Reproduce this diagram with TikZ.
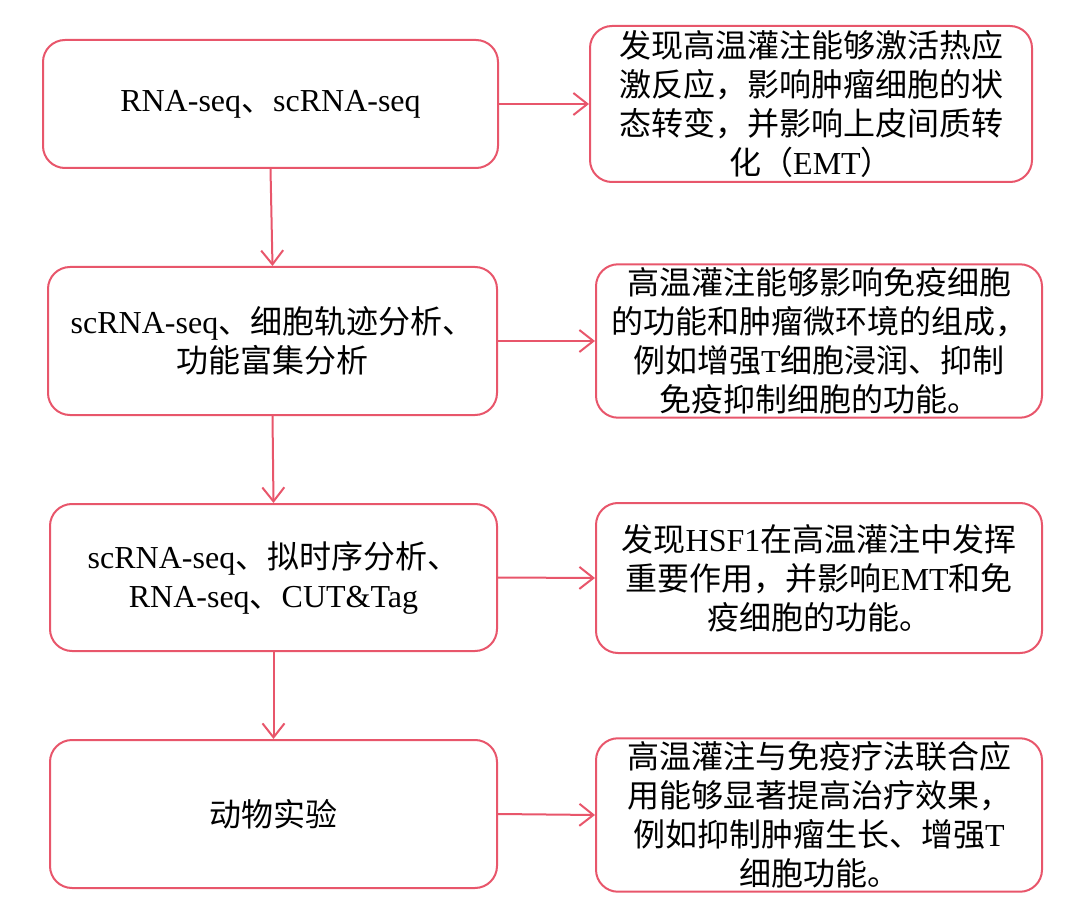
\documentclass[tikz,border=0pt]{standalone}
\usepackage{fontspec}
\setmainfont{Noto Sans CJK SC}
\newfontfamily\lat{Liberation Serif}
\usetikzlibrary{arrows.meta}
\definecolor{flowred}{HTML}{E8566B}

\begin{document}
\begin{tikzpicture}[x=1pt, y=-1pt,
   every node/.style={draw=flowred, line width=2pt, rounded corners=22pt,
                      align=center, font=\fontsize{32}{39}\selectfont},
   method/.style={minimum width=449pt, minimum height=148pt},
   finding/.style={minimum width=446pt, minimum height=151pt},
   flow/.style={draw=flowred, line width=2pt,
                -{Straight Barb[length=14pt, width=22pt]}}]

\useasboundingbox (0,0) rectangle (1080,912);

% methods
\node[method, minimum width=455pt, minimum height=128pt] (seq) at (270.5,104)
    {{\lat RNA-seq}、{\lat scRNA-seq}};
\node[method] (traj) at (272.5,341)
    {{\lat scRNA-seq}、细胞轨迹分析、\\功能富集分析};
\node[method, minimum width=447pt, minimum height=147pt] (pseudo) at (273.5,577.5)
    {{\lat scRNA-seq}、拟时序分析、\\{\lat RNA-seq}、{\lat CUT\&Tag}};
\node[method, minimum width=447pt] (animal) at (273.5,814)
    {动物实验};

% findings
\node[finding, minimum width=442pt, minimum height=156pt] (heat) at (811,104)
    {发现高温灌注能够激活热应\\激反应，影响肿瘤细胞的状\\态转变，并影响上皮间质转\\化（{\lat EMT}）};
\node[finding, minimum height=152pt] (immune) at (819,341)
    {高温灌注能够影响免疫细胞\\的功能和肿瘤微环境的组成，\\例如增强{\lat T}细胞浸润、抑制\\免疫抑制细胞的功能。};
\node[finding, minimum height=150pt] (hsf) at (819,578)
    {发现{\lat HSF1}在高温灌注中发挥\\重要作用，并影响{\lat EMT}和免\\疫细胞的功能。};
\node[finding, minimum height=150pt] (combo) at (819,815)
    {高温灌注与免疫疗法联合应\\用能够显著提高治疗效果，\\例如抑制肿瘤生长、增强{\lat T}\\细胞功能。};

% arrows
\draw[flow] (seq.south) -- (traj.north);
\draw[flow] (traj.south) -- (pseudo.north);
\draw[flow] (pseudo.south) -- (animal.north);

\draw[flow] (seq.east) -- (heat.west);
\draw[flow] (traj.east) -- (immune.west);
\draw[flow] (pseudo.east) -- (hsf.west);
\draw[flow] (animal.east) -- (combo.west);

\end{tikzpicture}
\end{document}
